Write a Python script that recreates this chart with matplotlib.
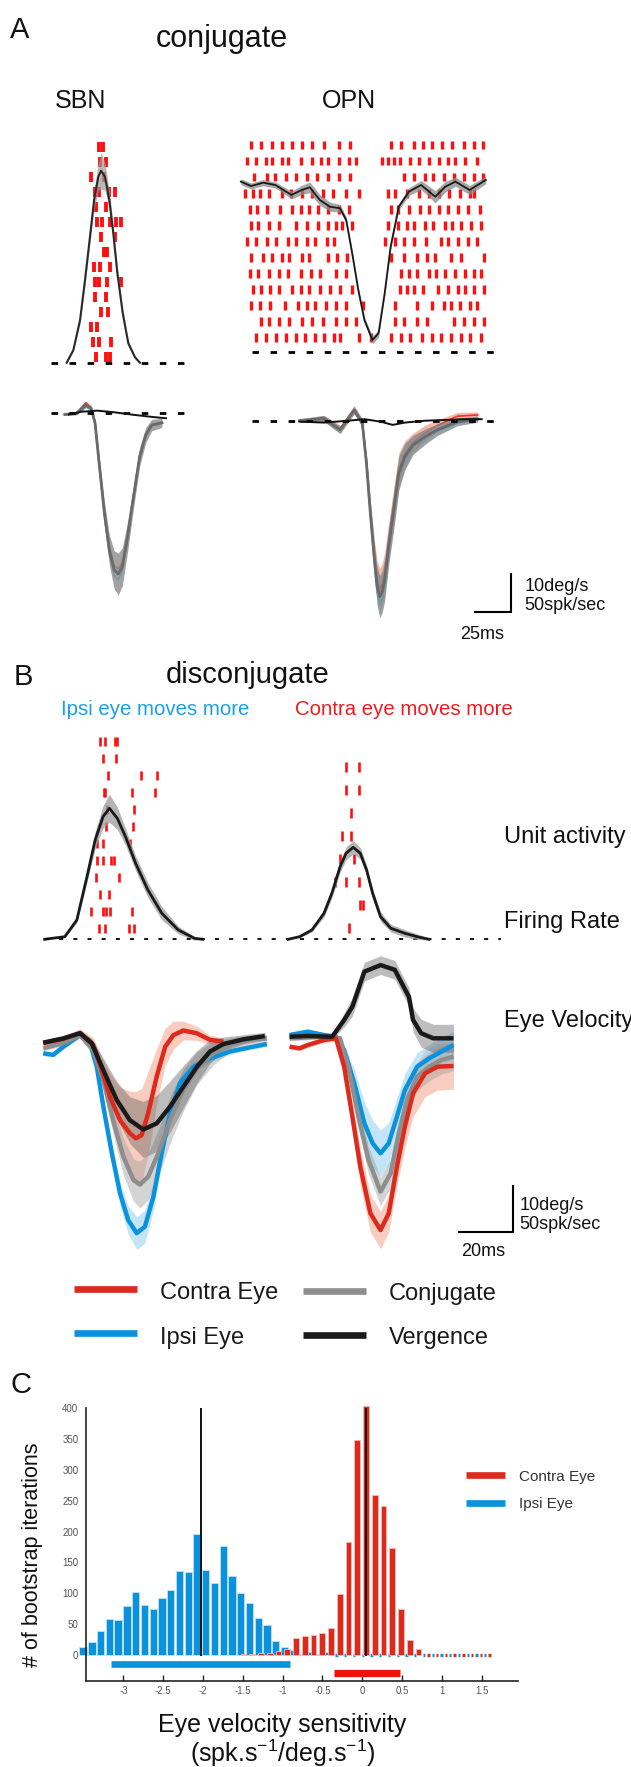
import numpy as np
import matplotlib
matplotlib.use('Agg')
import matplotlib.pyplot as plt
from matplotlib.lines import Line2D

plt.rcParams['font.family'] = ['Liberation Sans', 'DejaVu Sans']
plt.rcParams['axes.unicode_minus'] = False
plt.rcParams['lines.scale_dashes'] = False
plt.rcParams['mathtext.fontset'] = 'custom'
plt.rcParams['mathtext.rm'] = 'Liberation Sans'
plt.rcParams['mathtext.it'] = 'Liberation Sans:italic'

# ------------------------------------------------------------------ DATA
# Panel A, SBN (times in ms, rate in spk/s)
sbn_t = [12.4, 17.0, 21.6, 25.0, 28.4, 31.2, 34.1, 36.0, 38.7, 41.7, 44.4, 47.2, 50.9, 54.7, 59.3, 62.7]
sbn_rate = [0, 16.7, 56.2, 108.8, 165.8, 213.9, 244.7, 252.6, 244.7, 213.9, 170.3, 117.6, 65.0, 25.5, 7.1, 0]
sbn_rate_sem = [1, 2, 4, 6, 8, 12, 18, 24, 18, 12, 10, 8, 6, 4, 2, 1]
sbn_spikes = [
    [34.7, 37.5], [35.6, 39.4], [29.2, 38.3], [31.9, 34.7, 41.7, 45.3],
    [32.8, 39.4], [33.3, 36.7, 42.2, 46.1, 50.0], [36.1, 45.8], [38.3, 40.3],
    [31.4, 35.0, 42.2], [31.9, 34.7, 40.3, 50.0], [31.9, 39.4], [36.1, 41.1],
    [29.2, 33.3], [30.6, 34.7, 43.1], [32.8, 39.4, 42.2],
]
# Panel A, OPN
opn_t = [6.9, 13.9, 22.2, 30.6, 41.7, 48.6, 54.2, 61.1, 68.1, 75.0, 79.2, 83.3, 87.5,
         91.7, 97.2, 101.4, 105.6, 109.7, 115.3, 122.2, 130.6, 140.3, 147.2, 154.2, 163.9, 175.0]
opn_rate = [224.5, 218.8, 223.2, 220.1, 207.0, 213.6, 217.1, 200.4, 191.6, 189.5, 174.1, 130.3, 82.0,
            42.5, 16.2, 25.0, 77.6, 139.0, 191.6, 211.3, 220.1, 204.7, 217.9, 224.5, 213.6, 226.7]
opn_rate_sem = [4, 4, 4, 4, 5, 6, 7, 7, 6, 5, 4, 4, 4, 4, 5, 5, 4, 4, 4, 5, 6, 8, 7, 6, 6, 5]
opn_spikes = [
    [14, 21, 28, 35, 42, 49, 56, 64, 74, 82, 110, 117, 126, 132, 138, 145, 152, 160, 167, 173],
    [11, 17, 24, 28, 35, 39, 48, 56, 62, 67, 74, 81, 86, 104, 108, 112, 116, 123, 129, 136, 143, 149, 154, 161, 169],
    [16, 25, 30, 38, 45, 52, 59, 67, 74, 82, 119, 126, 133, 139, 146, 153, 160, 167, 173],
    [10, 15, 20, 26, 35, 41, 49, 56, 63, 70, 79, 88, 108, 113, 121, 129, 136, 143, 150, 157, 164, 167],
    [13, 18, 25, 34, 42, 48, 54, 60, 67, 74, 81, 110, 115, 122, 130, 136, 143, 149, 156, 163, 171],
    [14, 19, 26, 33, 45, 52, 60, 67, 72, 76, 83, 108, 115, 121, 126, 133, 139, 147, 152, 158, 165, 172],
    [11, 17, 25, 31, 39, 45, 52, 58, 66, 71, 106, 113, 119, 126, 134, 144, 149, 156, 163, 169],
    [14, 22, 28, 35, 40, 49, 54, 67, 73, 80, 110, 119, 128, 135, 140, 151, 158, 174],
    [13, 19, 26, 33, 39, 48, 55, 61, 72, 79, 117, 122, 128, 136, 141, 147, 154, 161, 167, 172],
    [15, 21, 27, 33, 42, 48, 54, 61, 68, 75, 83, 116, 121, 126, 132, 142, 149, 156, 161, 167, 174],
    [14, 20, 27, 37, 46, 52, 58, 65, 72, 79, 91, 113, 128, 138, 146, 151, 157, 164, 169],
    [21, 26, 33, 40, 49, 56, 63, 72, 79, 86, 113, 119, 128, 135, 153, 160, 167, 174],
    [17, 24, 31, 38, 45, 51, 58, 64, 71, 75, 88, 96, 110, 117, 123, 131, 138, 144, 151, 158, 164, 172],
]
# Panel A eye velocity (deg/s)
sbnv_t = [11.1, 19.4, 25.6, 29.2, 31.9, 34.7, 38.3, 41.7, 45.0, 47.8, 50.6, 54.2, 58.3, 62.5, 66.7, 70.8, 77.8]
sbnv_conj = [-0.3, 0, 2.2, 1.3, -2.6, -13.2, -26.3, -36.0, -41.2, -42.3, -40.4, -32.5, -21.9, -11.4, -5.7, -3.1, -2.5]
sbnv_conj_sem = [0.3, 0.4, 0.6, 0.6, 1, 2, 3, 4, 5, 5.5, 5, 4, 3, 2.5, 2, 1.5, 1.2]
sbnv_contra = [-0.3, 0.2, 2.8, 1.6, -2.4, -12.8, -25.8, -35.2, -40.0, -41.0, -39.3, -31.8, -21.5, -11.2, -5.6, -3.0, -2.3]
sbnv_ipsi = [-0.4, -0.2, 1.6, 1.0, -2.9, -13.6, -26.9, -37.0, -42.6, -43.8, -41.6, -33.2, -22.4, -11.7, -5.9, -3.3, -2.6]
sbnv_verg_t = [13.9, 22.2, 33.3, 44.4, 58.3, 72.2, 80.6]
sbnv_verg = [-0.3, 0.4, 0.7, 0.3, -0.4, -1.0, -1.3]

opnv_t = [47.2, 63.9, 75.0, 84.7, 90.3, 93.1, 95.8, 98.6, 100.4, 102.2, 103.9, 105.6, 108.3,
          112.5, 115.3, 119.4, 125.0, 133.3, 141.7, 155.6, 169.4]
opnv_conj = [0, 0.6, -2.4, 2.8, -0.7, -11.2, -24.4, -36.7, -43.5, -46.3, -45.0, -41.9, -33.2,
             -21.7, -13.8, -9.5, -6.4, -4.2, -2.4, -0.3, 0.4]
opnv_conj_sem = [0.5, 0.8, 1, 1, 1, 2, 3, 4, 5, 5.5, 5.5, 5.5, 5, 5, 4.5, 3.5, 2.5, 2, 1.5, 1, 0.8]
opnv_contra = [0, 0.6, -2.2, 3.0, -0.5, -10.8, -23.8, -35.5, -41.8, -44.3, -43.0, -40.2, -32.0,
               -20.8, -13.0, -8.8, -5.8, -3.2, -1.3, 1.2, 1.5]
opnv_ipsi = [0, 0.5, -2.6, 2.6, -0.9, -11.6, -25.0, -37.9, -45.2, -48.2, -47.0, -43.6, -34.4,
             -22.6, -14.5, -10.1, -6.9, -4.6, -2.7, -0.6, 0.2]
opnv_verg_t = [47.2, 63.9, 80.6, 91.7, 102.8, 111.1, 119.4, 133.3, 147.2, 161.1, 172.2]
opnv_verg = [-0.25, -0.5, 0.0, 0.4, -0.25, -1.1, -0.5, 0.0, 0.2, 0.4, 0.4]

# Panel B firing rate
bl_t = [3, 10.4, 14.8, 18.5, 21.5, 24.4, 26.7, 29.6, 32.6, 36.3, 40.8, 45.9, 51.9, 57.8, 60.8]
bl_rate = [0, 2.8, 20.7, 67, 106.3, 131.3, 140.3, 129.6, 109.9, 81.4, 52.8, 27.8, 10, 1.1, 0]
bl_rate_sem = [0, 1, 3, 6, 9, 12, 15, 12, 9, 8, 8, 7, 4, 2, 0]
br_t = [3.2, 7.4, 11.9, 16.3, 19.2, 22.2, 24.4, 27.0, 29.6, 31.9, 34.1, 37.0, 40.8, 45.9, 50.4, 54.8]
br_rate = [0, 2.8, 10, 27.8, 49.3, 77.7, 92.1, 98.5, 92.1, 74.2, 49.3, 24.2, 11.8, 6.4, 2.8, 0]
br_rate_sem = [0, 1, 2, 4, 5, 6, 7, 7, 6, 5, 5, 5, 4, 4, 3, 1]
bl_spikes = [
    [23.4, 25.2, 28.6, 29.6], [24.4, 29.2], [26.2, 38.1, 44.1], [24.7, 25.2, 34.8, 43.3],
    [25.9, 35.6], [25.5, 35.3], [22.2, 24.4, 34.4], [22.2, 24.4, 27.4, 28.4],
    [21.8, 30.1], [23.3, 26.7], [20.0, 24.4, 25.6, 27.0, 34.8], [23.0, 25.2, 33.8, 35.6],
]
br_spikes = [
    [24.4, 29.3], [24.4, 29.3], [26.1], [23.0, 26.1],
    [22.2, 27.4], [20.4, 24.4, 29.3], [29.6, 30.7], [25.5],
]
# Panel B eye velocity, ipsi-eye-moves-more (left)
blv_red_t = [2.5, 9.8, 16.0, 20.8, 23.9, 26.9, 30.6, 34.2, 36.4, 38.5, 40.9, 44.0, 47.1, 50.1, 53.8, 58.7, 63.5, 68.4]
blv_red = [-0.3, 0.6, 1.9, -0.7, -6.1, -11.8, -16.8, -19.6, -20.7, -20.0, -15.3, -7.5, -1.1, 1.4, 2.4, 1.8, 0.4, 0.0]
blv_red_sem = [0.5, 0.6, 0.8, 1.5, 3, 5, 7, 9, 10, 10, 9, 6, 4, 3, 2, 1.5, 1, 0.8]
blv_blue_t = [2.5, 6.2, 9.8, 16.0, 19.6, 22.1, 24.5, 27.6, 30.6, 33.6, 36.7, 39.7, 42.8, 45.8, 48.9, 52.5,
              57.4, 63.5, 70.8, 78.2, 84.3]
blv_blue = [-2.5, -2.8, -1.1, 1.4, -0.3, -5.4, -13.9, -23.9, -32.5, -38.2, -41.0, -39.6, -33.2, -23.9, -15.3,
            -8.9, -5.4, -3.6, -2.1, -1.2, -0.5]
blv_blue_sem = [0.5, 0.5, 0.5, 0.5, 0.6, 1, 1.5, 2, 2.5, 3, 3.5, 3.5, 3, 2.5, 2, 1.5, 1, 0.8, 0.6, 0.5, 0.5]
blv_gray_t = [2.5, 9.8, 16.0, 20.8, 24.5, 28.1, 31.8, 35.5, 37.9, 40.9, 44.6, 48.9, 53.8, 58.7, 64.7, 70.8, 78.2, 84.3]
blv_gray = [-1.4, -0.3, 1.4, -1.8, -8.2, -16.8, -24.6, -29.6, -30.6, -28.9, -23.9, -16.8, -10.3, -5.7, -2.5,
            -0.7, 0.4, 0.7]
blv_gray_sem = [0.6, 0.6, 0.6, 1, 2, 3, 4, 4.5, 5, 5, 5, 5, 4.5, 3.5, 2.5, 1.5, 1, 0.8]
blv_black_t = [2.5, 9.8, 16.0, 20.2, 24.5, 29.4, 34.2, 39.1, 44.0, 48.9, 53.8, 58.7, 63.5, 68.4, 75.7, 83.6]
blv_black = [-0.2, 0.7, 1.8, -0.3, -6.1, -12.5, -16.8, -18.8, -17.5, -13.9, -9.6, -5.4, -2.1, -0.5, 0.5, 1.2]
blv_black_sem = [0.5, 0.5, 0.6, 1, 2.5, 4, 5, 6, 6, 5.5, 4.5, 3.5, 2.5, 1.5, 1, 0.8]
# Panel B eye velocity, contra-eye-moves-more (right)
brv_red_t = [3.7, 7.4, 10.4, 16.3, 20.7, 23.7, 26.7, 29.6, 33.3, 37.0, 40.0, 43.0, 45.9, 48.9, 53.3, 57.8, 63.7]
brv_red = [-1.06, -1.42, -0.7, 0.35, 0.72, -5.35, -16.06, -26.76, -36.76, -40.33, -36.76, -26.76, -18.2, -11.05,
           -6.78, -5.35, -5.2]
brv_red_sem = [0.5, 0.5, 0.5, 0.5, 0.6, 1.5, 3, 4, 4, 4, 4, 4, 4.5, 5, 5, 5, 5]
brv_blue_t = [3.7, 10.4, 16.3, 20.7, 23.7, 27.4, 31.1, 34.1, 37.0, 40.0, 43.0, 45.9, 50.4, 54.8, 59.3, 63.7]
brv_blue = [1.43, 2.15, 1.43, 1.08, -1.78, -8.91, -17.48, -21.76, -23.9, -21.76, -16.06, -10.34, -5.35, -3.56,
            -2.13, -0.7]
brv_blue_sem = [0.5, 0.5, 0.5, 0.5, 1, 3, 4.5, 5, 5, 4.5, 4, 3.5, 3, 3, 3, 3]
brv_gray_t = [3.7, 16.3, 22.2, 25.2, 28.9, 32.6, 37.0, 40.7, 43.7, 46.7, 50.4, 54.8, 59.3, 63.7]
brv_gray = [0.72, 1.08, 0.72, -5.35, -16.06, -25.33, -32.11, -28.19, -19.62, -12.48, -7.49, -5.35, -3.92, -3.21]
brv_gray_sem = [0.5, 0.5, 0.6, 1.5, 2.5, 3, 3, 3, 3, 3, 3, 3, 3, 3]
brv_black_t = [3.7, 10.4, 19.3, 23.7, 26.7, 31.1, 37.0, 42.2, 47.4, 48.9, 51.9, 56.3, 63.7]
brv_black = [1.07, 1.22, 1.07, 4.65, 7.5, 15.0, 16.4, 15.4, 9.6, 4.65, 1.8, 0.73, 0.73]
brv_black_sem = [0.5, 0.5, 0.5, 1.5, 2, 2, 2, 2, 2, 2.5, 3, 3, 3]

# Panel C histogram (sensitivity bins, counts)
bin_centers = [-3.49, -3.38, -3.27, -3.16, -3.05, -2.94, -2.83, -2.72, -2.61, -2.50, -2.39, -2.28,
               -2.17, -2.06, -1.95, -1.84, -1.73, -1.62, -1.51, -1.40, -1.29, -1.18, -1.07, -0.96,
               -0.85, -0.74, -0.63, -0.52, -0.41, -0.30, -0.19, -0.08, 0.03, 0.14, 0.25, 0.36,
               0.47, 0.58, 0.69, 0.80, 0.91, 1.02, 1.13, 1.24, 1.35, 1.46, 1.57]
ipsi_counts = [13.5, 20.5, 39, 58, 57, 79.5, 102, 80.5, 75, 93, 105, 136, 134, 196, 138, 116,
               176, 128, 100, 84, 60.5, 48.6, 22.7, 13.5, 8, 1, 5, 1, 5,
               0, 0, 0, 0, 0, 0, 0, 0, 0, 0, 0, 0, 0, 0, 0, 0, 0, 0]
contra_counts = [None] * 18 + [1, 2, 3, 4, 6, 10, 27, 30, 32, 36, 44, 99, 184, 348, 403, 259,
                               242, 173, 74, 25, 10, 0, 0, 0, 0, 0, 0, 0, 0]
ipsi_mean, contra_mean = -2.03, 0.05
ipsi_ci = (-3.155, -0.91)
contra_ci = (-0.356, 0.474)
xticks_C = [-3, -2.5, -2, -1.5, -1, -0.5, 0, 0.5, 1, 1.5]
xticklabels_C = ['-3', '-2.5', '-2', '-1.5', '-1', '-0.5', '0', '0.5', '1', '1.5']
yticks_C = [0, 50, 100, 150, 200, 250, 300, 350, 400]

# ------------------------------------------------------------------ STYLE
RED_R = '#ff1010'
C_RED = '#dc2a1c'
C_BLUE = '#0a93dc'
C_GRAY = '#8e8e8e'
C_BLACK = '#1a1a1a'

W, H = 631, 1767
fig = plt.figure(figsize=(W / 100, H / 100), dpi=100)


def frame(x0, y0, sx, sy):
    """Invisible full-figure axes: data (0,0) at pixel (x0,y0); sx, sy pixels per unit."""
    ax = fig.add_axes([0, 0, 1, 1])
    ax.set_xlim(-x0 / sx, (W - x0) / sx)
    ax.set_ylim((y0 - H) / sy, y0 / sy)
    ax.axis('off')
    ax.patch.set_visible(False)
    return ax


def ftext(px, py, s, **kw):
    kw.setdefault('va', 'baseline')
    return fig.text(px / W, 1 - py / H, s, **kw)


def band(ax, t, v, s, color, alpha, z=1):
    v = np.asarray(v, float)
    s = np.asarray(s, float)
    ax.fill_between(t, v - s, v + s, color=color, alpha=alpha, lw=0, zorder=z)


def dashed(ax, t0, t1, lw, on, off, z=5):
    ax.plot([t0, t1], [0, 0], color='black', lw=lw, dashes=(on, off), zorder=z,
            solid_capstyle='butt', dash_capstyle='butt')


# ------------------------------------------------------------------ PANEL A
SXA, SYR_A, SYV_A = 1.457, 0.76, 3.8
ax = frame(48.6, 131.7, SXA, -15.04)
ax.eventplot(sbn_spikes, lineoffsets=list(range(1, len(sbn_spikes) + 1)), linelengths=0.64,
             colors=RED_R, linewidths=2.8)
ax = frame(48.6, 362.7, SXA, SYR_A)
band(ax, sbn_t, sbn_rate, sbn_rate_sem, '#9a9a9a', 0.7, 2)
ax.plot(sbn_t, sbn_rate, color='#2a2a2a', lw=1.5, zorder=3, solid_joinstyle='round')
dashed(ax, 1.4, 95.9, 2.0, 4.7, 8.3)

ax = frame(230.8, 129.0, SXA, -16.03)
ax.eventplot(opn_spikes, lineoffsets=list(range(1, len(opn_spikes) + 1)), linelengths=0.55,
             colors=RED_R, linewidths=2.4)
ax = frame(230.8, 352.3, SXA, SYR_A)
band(ax, opn_t, opn_rate, opn_rate_sem, '#8a8a8a', 0.75, 2)
ax.plot(opn_t, opn_rate, color='#1a1a1a', lw=1.3, zorder=3, solid_joinstyle='round')
dashed(ax, 14.4, 186.1, 2.0, 4.7, 8.3)

ax = frame(48.6, 413.3, SXA, SYV_A)
ax.plot(sbnv_t, sbnv_contra, color='#ff2a2a', lw=1.2, zorder=2)
ax.plot(sbnv_t, sbnv_ipsi, color='#30c8f5', lw=1.2, zorder=2)
band(ax, sbnv_t, sbnv_conj, sbnv_conj_sem, '#8c8c8c', 0.8, 3)
ax.plot(sbnv_t, sbnv_conj, color='#6a6a6a', lw=2.0, zorder=4)
ax.plot(sbnv_verg_t, sbnv_verg, color='#111111', lw=1.4, zorder=6)
dashed(ax, 1.4, 93.1, 2.0, 4.7, 8.3)

ax = frame(230.8, 420.7, SXA, SYV_A)
band(ax, opnv_t, opnv_contra, opnv_conj_sem, '#f08a6a', 0.6, 1)
ax.plot(opnv_t, opnv_contra, color='#ff2a2a', lw=1.2, zorder=2)
ax.plot(opnv_t, opnv_ipsi, color='#30c8f5', lw=1.2, zorder=2)
band(ax, opnv_t, opnv_conj, opnv_conj_sem, '#7f8a90', 0.8, 3)
ax.plot(opnv_t, opnv_conj, color='#6a6a6a', lw=2.0, zorder=4)
ax.plot(opnv_verg_t, opnv_verg, color='#111111', lw=1.4, zorder=6)
dashed(ax, 14.4, 186.1, 2.0, 4.7, 8.3)
# scale bar 25 ms / 10 deg/s
ax.plot([167.3, 192.3, 192.3], [-50.3, -50.3, -40.3], color='black', lw=1.5,
        solid_joinstyle='miter', clip_on=False)

# ------------------------------------------------------------------ PANEL B
SXB, SYR_B, SYV_B = 2.733, 0.934, 4.67
ax = frame(36.4, 724.7, SXB, -16.96)
ax.eventplot(bl_spikes, lineoffsets=list(range(1, len(bl_spikes) + 1)), linelengths=0.52,
             colors=RED_R, linewidths=1.9)
ax = frame(279.4, 744.3, SXB, -23.0)
ax.eventplot(br_spikes, lineoffsets=list(range(1, len(br_spikes) + 1)), linelengths=0.44,
             colors=RED_R, linewidths=1.9)

ax = frame(36.4, 939.3, SXB, SYR_B)
band(ax, bl_t, bl_rate, bl_rate_sem, '#9b9b9b', 0.75, 2)
ax.plot(bl_t, bl_rate, color=C_BLACK, lw=2.0, zorder=3, solid_joinstyle='round')
dashed(ax, 3, 170, 1.3, 2.9, 7.3)
ax = frame(279.4, 939.3, SXB, SYR_B)
band(ax, br_t, br_rate, br_rate_sem, '#9b9b9b', 0.75, 2)
ax.plot(br_t, br_rate, color=C_BLACK, lw=2.0, zorder=3, solid_joinstyle='round')

for x0, data in [(36.4, [(blv_red_t, blv_red, blv_red_sem), (blv_blue_t, blv_blue, blv_blue_sem),
                         (blv_gray_t, blv_gray, blv_gray_sem), (blv_black_t, blv_black, blv_black_sem)]),
                 (279.4, [(brv_red_t, brv_red, brv_red_sem), (brv_blue_t, brv_blue, brv_blue_sem),
                          (brv_gray_t, brv_gray, brv_gray_sem), (brv_black_t, brv_black, brv_black_sem)])]:
    ax = frame(x0, 1041.7, SXB, SYV_B)
    (rt, rv, rs), (bt, bv, bs), (gt, gv, gs), (kt, kv, ks) = data
    band(ax, rt, rv, rs, '#f4ad95', 0.6, 1)
    band(ax, bt, bv, bs, '#9dd5f3', 0.6, 1)
    band(ax, gt, gv, gs, '#a0a0a0', 0.45, 1)
    band(ax, kt, kv, ks, '#5a5a5a', 0.4, 1)
    kw = dict(lw=3.2, solid_capstyle='butt', solid_joinstyle='round')
    ax.plot(bt, bv, color=C_BLUE, zorder=3, **kw)
    ax.plot(gt, gv, color=C_GRAY, zorder=3, **kw)
    ax.plot(rt, rv, color=C_RED, zorder=4, **kw)
    ax.plot(kt, kv, color=C_BLACK, zorder=5, **kw)
    if x0 > 100:
        ax.plot([65.6, 85.6, 85.6], [-40.8, -40.8, -30.8], color='black', lw=1.5,
                solid_joinstyle='miter', clip_on=False)

# legend B
for (x1, x2, y, c) in [(73.7, 136.8, 1289.3, C_RED), (302.8, 366.4, 1290.7, C_GRAY),
                       (73.7, 136.8, 1333.3, C_BLUE), (302.8, 366.4, 1335.0, C_BLACK)]:
    fig.add_artist(Line2D([x1 / W, x2 / W], [1 - y / H, 1 - y / H], color=c, lw=4.8,
                          solid_capstyle='butt'))
ftext(160, 1299.3, 'Contra Eye', fontsize=17, color='#1a1a1a')
ftext(388.7, 1300, 'Conjugate', fontsize=17, color='#1a1a1a')
ftext(160, 1344, 'Ipsi Eye', fontsize=17, color='#1a1a1a')
ftext(388.7, 1344, 'Vergence', fontsize=17, color='#1a1a1a')

# ------------------------------------------------------------------ PANEL C
axC = fig.add_axes([86 / W, 1 - 1680.7 / H, (518 - 86) / W, (1680.7 - 1408.3) / H])
axC.set_xlim(-3.471, 1.956)
axC.set_ylim(-41.7, 400)
axC.patch.set_visible(False)
bc = np.asarray(bin_centers)
ic = np.asarray(ipsi_counts, float)
cc = np.array([np.nan if v is None else v for v in contra_counts], float)
nz = ic > 0
axC.bar(bc[nz] - 0.017, ic[nz], width=0.092, color=C_BLUE, edgecolor='#bfe2f7', lw=0.6,
        clip_on=False, zorder=2)
z0 = ic == 0
axC.bar(bc[z0] - 0.025, np.zeros(z0.sum()), width=0.03, color=C_BLUE, edgecolor=C_BLUE, lw=2.4,
        clip_on=False, zorder=2)
nzr = cc > 0
axC.bar(bc[nzr] + 0.017, cc[nzr], width=0.071, color=C_RED, edgecolor='#f4bdb5', lw=0.6,
        clip_on=False, zorder=3)
z0r = cc == 0
axC.bar(bc[z0r] + 0.03, np.zeros(z0r.sum()), width=0.03, color=C_RED, edgecolor=C_RED, lw=2.4,
        clip_on=False, zorder=3)
axC.plot([ipsi_mean, ipsi_mean], [0, 400], color='#111111', lw=1.4, zorder=4)
axC.plot([contra_mean, contra_mean], [0, 400], color='#111111', lw=1.4, zorder=4)
axC.plot(ipsi_ci, [-15, -15], color=C_BLUE, lw=4.8, solid_capstyle='butt', zorder=4)
axC.plot(contra_ci, [-30, -30], color='#ee1111', lw=5.2, solid_capstyle='butt', zorder=4)
for s in ['top', 'right']:
    axC.spines[s].set_visible(False)
for s in ['left', 'bottom']:
    axC.spines[s].set_linewidth(1.2)
    axC.spines[s].set_color('#222222')
    axC.spines[s].set_zorder(5)
axC.set_yticks(yticks_C)
axC.set_yticklabels([str(v) for v in yticks_C])
axC.tick_params(axis='y', length=0, pad=5.5, labelsize=7, labelcolor='#555555')
axC.set_xticks(xticks_C)
axC.set_xticklabels(xticklabels_C)
axC.tick_params(axis='x', direction='in', length=4, width=1, color='#222222', pad=3.5,
                labelsize=7, labelcolor='#555555')

fig.add_artist(Line2D([465.7 / W, 505 / W], [1 - 1475 / H, 1 - 1475 / H], color=C_RED, lw=4.8,
                      solid_capstyle='butt'))
fig.add_artist(Line2D([465.7 / W, 505 / W], [1 - 1502.7 / H, 1 - 1502.7 / H], color=C_BLUE, lw=4.8,
                      solid_capstyle='butt'))
ftext(519, 1481, 'Contra Eye', fontsize=11, color='#333333')
ftext(519, 1508.3, 'Ipsi Eye', fontsize=11, color='#333333')

ftext(33, 1555, '# of bootstrap iterations', rotation=90, ha='center', va='center', fontsize=15.5,
      color='#111111')
ftext(282.4, 1731.7, 'Eye velocity sensitivity', ha='center', fontsize=18, color='#111111')
ftext(283, 1761.7, r'(spk.s$^{\mathregular{-1}}$/deg.s$^{\mathregular{-1}}$)', ha='center',
      fontsize=18, color='#111111')

# ------------------------------------------------------------------ TEXTS
ftext(10, 38.3, 'A', fontsize=21, color='#111111')
ftext(14, 685, 'B', fontsize=21, color='#111111')
ftext(10, 1393, 'C', fontsize=21, color='#111111')
ftext(221.7, 47.3, 'conjugate', ha='center', fontsize=22, color='#111111')
ftext(81, 108.3, 'SBN', ha='center', fontsize=18, color='#111111')
ftext(349.2, 108.3, 'OPN', ha='center', fontsize=18, color='#111111')
ftext(247.5, 683.3, 'disconjugate', ha='center', fontsize=21, color='#111111')
ftext(154.9, 715, 'Ipsi eye moves more', ha='center', fontsize=14.7, color='#1aa0e6')
ftext(403.4, 715, 'Contra eye moves more', ha='center', fontsize=14.7, color='#ee1c1c')
ftext(504, 842.7, 'Unit activity', fontsize=17, color='#111111')
ftext(504, 928.3, 'Firing Rate', fontsize=17, color='#111111')
ftext(504, 1026.7, 'Eye Velocity', fontsize=17, color='#111111')
ftext(524.3, 590.7, '10deg/s', fontsize=13, color='#111111')
ftext(524.3, 610, '50spk/sec', fontsize=13, color='#111111')
ftext(481.8, 639.3, '25ms', ha='center', fontsize=13, color='#111111')
ftext(519.4, 1210, '10deg/s', fontsize=13, color='#111111')
ftext(519.4, 1229.3, '50spk/sec', fontsize=13, color='#111111')
ftext(482.8, 1256, '20ms', ha='center', fontsize=13, color='#111111')

fig.savefig('out.png', dpi=100)
